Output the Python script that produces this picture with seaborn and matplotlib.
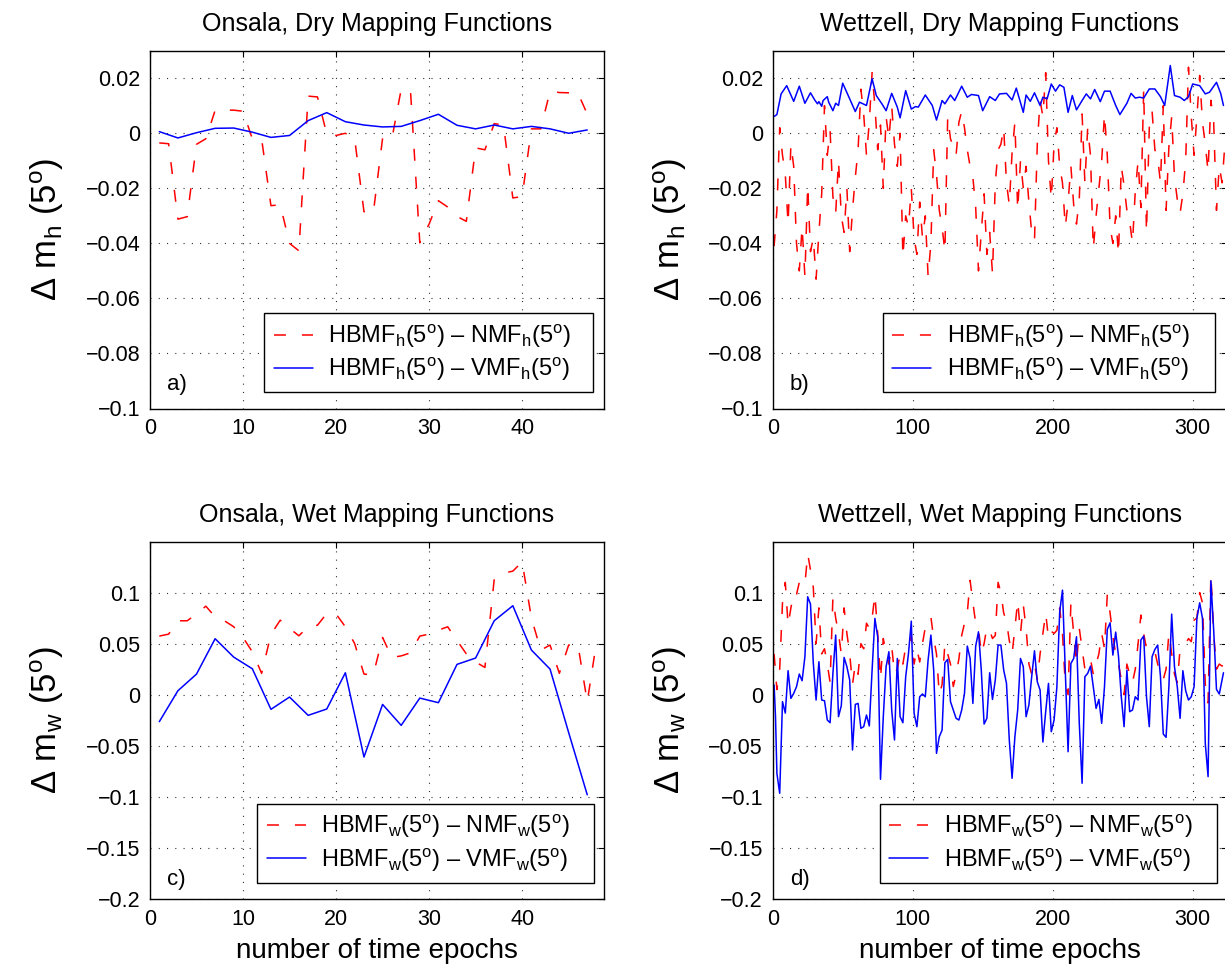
import matplotlib
matplotlib.use("Agg")
import matplotlib.pyplot as plt
import seaborn as sns

# ---------------- data ----------------
# Onsala, dry: red = HBMF-NMF (every epoch), blue = HBMF-VMF (every 2nd epoch)
ons_nmf_h_epoch = list(range(1, 49))
ons_nmf_h = [-0.0035, -0.0038, -0.0312, -0.0303, -0.0040, -0.0020, 0.0083, 0.0084,
             0.0084, 0.0080, -0.0020, -0.0021, -0.0263, -0.0260, -0.0400, -0.0427,
             0.0135, 0.0132, -0.0003, -0.0008, 0.0000, -0.0020, -0.0285, -0.0290,
             -0.0018, -0.0020, 0.0160, 0.0155, -0.0398, -0.0330, -0.0245, -0.0268,
             -0.0302, -0.0320, -0.0053, -0.0060, 0.0035, 0.0030, -0.0235, -0.0230,
             0.0016, 0.0016, 0.0153, 0.0148, 0.0147, 0.0146, 0.0070, 0.0075]
ons_vmf_h_epoch = list(range(1, 48, 2))
ons_vmf_h = [0.0006, -0.0017, 0.0002, 0.0018, 0.0019, 0.0004, -0.0015, -0.0008,
             0.0046, 0.0075, 0.0042, 0.0030, 0.0023, 0.0025, 0.0046, 0.0069,
             0.0029, 0.0016, 0.0030, 0.0016, 0.0025, 0.0016, 0.0000, 0.0012]

# Onsala, wet
ons_nmf_w_epoch = list(range(1, 49))
ons_nmf_w = [0.0574, 0.0593, 0.0724, 0.0724, 0.0790, 0.0867, 0.0763, 0.0724,
             0.0665, 0.0560, 0.0420, 0.0209, 0.0590, 0.0730, 0.0650, 0.0577,
             0.0665, 0.0680, 0.0796, 0.0790, 0.0665, 0.0500, 0.0202, 0.0195,
             0.0560, 0.0365, 0.0380, 0.0410, 0.0574, 0.0593, 0.0632, 0.0665,
             0.0530, 0.0400, 0.0320, 0.0267, 0.1130, 0.1190, 0.1210, 0.1300,
             0.0750, 0.0437, 0.0486, 0.0209, 0.0486, 0.0486, -0.0068, 0.0518]
ons_vmf_w_epoch = list(range(1, 48, 2))
ons_vmf_w = [-0.0264, 0.0039, 0.0202, 0.0548, 0.0368, 0.0254, -0.0143, -0.0023,
             -0.0202, -0.0140, 0.0215, -0.0610, -0.0095, -0.0300, -0.0033, -0.0078,
             0.0297, 0.0359, 0.0724, 0.0871, 0.0437, 0.0251, -0.0370, -0.0980]

# Wettzell, dry
wtz_nmf_h_epoch = list(range(1, 324, 2))
wtz_nmf_h = [-0.041, -0.028, 0.002, -0.008, -0.015, -0.033, -0.004, -0.012, -0.040, -0.050,
             -0.034, -0.052, -0.019, -0.043, -0.038, -0.053, -0.036, -0.022, 0.010, -0.008,
             0.001, -0.023, -0.029, -0.010, -0.030, -0.036, -0.020, -0.043, -0.028, -0.016,
             -0.006, 0.016, 0.007, -0.008, 0.004, 0.022, 0.010, -0.006, 0.003, -0.020,
             0.006, -0.002, 0.010, -0.004, -0.012, 0.000, -0.045, -0.030, -0.034, -0.020,
             -0.038, -0.044, -0.025, -0.038, -0.030, -0.052, -0.040, -0.006, -0.015, -0.028,
             -0.034, -0.043, 0.006, -0.002, -0.005, -0.008, 0.004, 0.008, 0.002, -0.006,
             -0.012, -0.016, -0.027, -0.050, -0.036, -0.022, -0.044, -0.036, -0.051, -0.018,
             -0.006, -0.004, 0.002, -0.018, -0.026, -0.007, 0.004, -0.028, -0.010, -0.020,
             -0.012, -0.025, -0.036, -0.039, -0.004, 0.012, 0.006, 0.022, -0.010, -0.024,
             -0.004, 0.002, -0.012, -0.018, -0.034, -0.025, -0.012, -0.026, -0.033, -0.024,
             0.007, -0.018, 0.002, -0.008, -0.042, -0.030, -0.020, -0.010, 0.007, -0.008,
             -0.034, -0.040, -0.030, -0.044, -0.012, -0.019, -0.028, -0.032, -0.040, -0.021,
             -0.010, -0.027, 0.016, -0.036, 0.002, 0.008, -0.006, -0.009, -0.018, 0.010,
             -0.028, -0.005, 0.006, -0.016, -0.024, -0.029, -0.022, -0.010, 0.024, 0.006,
             -0.008, 0.006, 0.021, 0.004, -0.004, -0.014, 0.012, 0.004, -0.028, -0.012,
             -0.018, -0.004]
wtz_vmf_h_epoch = [1, 3, 6, 10, 15, 19, 23, 27, 30, 32, 33, 35, 36, 39, 40, 43, 45, 47, 50, 55,
                   59, 62, 67, 71, 74, 78, 81, 85, 89, 91, 95, 99, 102, 104, 109, 114, 117, 121,
                   123, 127, 130, 135, 139, 142, 147, 150, 155, 159, 162, 167, 171, 174, 179,
                   181, 184, 187, 191, 193, 196, 199, 202, 205, 208, 211, 214, 217, 221, 224,
                   227, 230, 234, 237, 241, 245, 248, 253, 256, 259, 262, 265, 269, 273, 277,
                   280, 284, 287, 291, 294, 297, 300, 305, 309, 312, 317, 320, 322]
wtz_vmf_h = [0.0061, 0.0068, 0.0143, 0.0173, 0.0116, 0.0171, 0.0109, 0.0147, 0.0121, 0.0107,
             0.0115, 0.0098, 0.0119, 0.0133, 0.0113, 0.0082, 0.0109, 0.0101, 0.0182, 0.0125,
             0.0079, 0.0113, 0.0101, 0.0198, 0.0137, 0.0107, 0.0082, 0.0145, 0.0095, 0.0056,
             0.0155, 0.0088, 0.0097, 0.0095, 0.0139, 0.0101, 0.0048, 0.0119, 0.0107, 0.0139,
             0.0119, 0.0171, 0.0131, 0.0141, 0.0137, 0.0082, 0.0133, 0.0119, 0.0143, 0.0145,
             0.0121, 0.0164, 0.0076, 0.0139, 0.0116, 0.0147, 0.0101, 0.0131, 0.0125, 0.0179,
             0.0153, 0.0176, 0.0167, 0.0076, 0.0137, 0.0085, 0.0119, 0.0143, 0.0125, 0.0159,
             0.0115, 0.0153, 0.0153, 0.0101, 0.0068, 0.0109, 0.0145, 0.0128, 0.0131, 0.0128,
             0.0161, 0.0161, 0.0133, 0.0101, 0.0246, 0.0137, 0.0131, 0.0119, 0.0133, 0.0179,
             0.0173, 0.0143, 0.0149, 0.0185, 0.0145, 0.0101]

# Wettzell, wet
wtz_nmf_w_epoch = list(range(1, 324, 2))
wtz_nmf_w = [0.040, 0.005, 0.025, 0.090, 0.110, 0.068, 0.085, 0.100, 0.098, 0.110,
             0.112, 0.108, 0.138, 0.122, 0.105, 0.050, 0.085, 0.040, 0.045, 0.030,
             0.012, 0.095, 0.075, 0.060, 0.040, 0.085, 0.060, 0.040, 0.010, 0.030,
             0.020, 0.050, 0.045, 0.070, 0.065, 0.075, 0.098, 0.060, 0.015, 0.055,
             0.040, 0.030, 0.048, 0.020, 0.025, 0.040, 0.030, 0.047, 0.046, 0.058,
             0.030, 0.045, 0.032, 0.050, 0.066, 0.068, 0.076, 0.055, 0.040, 0.000,
             0.010, 0.050, 0.040, 0.030, 0.008, 0.020, 0.035, 0.058, 0.070, 0.080,
             0.112, 0.090, 0.070, 0.065, 0.040, 0.050, 0.066, 0.063, 0.055, 0.058,
             0.110, 0.100, 0.080, 0.072, 0.053, 0.040, 0.065, 0.092, 0.060, 0.088,
             0.065, 0.030, 0.020, 0.030, 0.015, 0.040, 0.060, 0.080, 0.055, 0.062,
             0.060, 0.063, 0.085, 0.060, 0.010, 0.000, 0.090, 0.060, 0.030, 0.065,
             0.045, 0.025, 0.030, 0.035, 0.020, 0.030, 0.040, 0.060, 0.045, 0.098,
             0.080, 0.057, 0.040, 0.030, 0.015, 0.000, 0.030, 0.020, 0.012, 0.025,
             0.050, 0.078, 0.060, 0.045, 0.042, 0.040, 0.042, 0.030, 0.020, 0.015,
             0.025, 0.060, 0.040, 0.020, 0.012, 0.045, 0.048, 0.050, 0.055, 0.052,
             0.073, 0.075, 0.100, 0.090, 0.010, -0.008, 0.118, 0.060, 0.025, 0.030,
             0.028, 0.032]
wtz_vmf_w_epoch = [1, 2, 3, 5, 7, 9, 11, 13, 15, 17, 19, 21, 23, 25, 27, 29, 31, 33, 35, 37,
                   39, 41, 43, 45, 47, 49, 51, 53, 55, 57, 59, 61, 63, 65, 67, 69, 71, 73, 75,
                   77, 79, 81, 83, 85, 87, 89, 91, 93, 95, 97, 99, 101, 103, 105, 107, 109,
                   111, 113, 115, 117, 119, 121, 123, 125, 127, 129, 131, 133, 135, 137, 139,
                   141, 143, 145, 147, 149, 151, 153, 155, 157, 159, 161, 163, 165, 167, 169,
                   171, 173, 175, 177, 179, 181, 183, 185, 187, 189, 191, 193, 195, 197, 199,
                   201, 203, 205, 207, 209, 211, 213, 215, 217, 219, 221, 223, 225, 227, 229,
                   231, 233, 235, 237, 239, 241, 243, 245, 247, 249, 251, 253, 255, 257, 259,
                   261, 263, 265, 267, 269, 271, 273, 275, 277, 279, 281, 283, 285, 287, 289,
                   291, 293, 295, 297, 299, 301, 303, 305, 307, 309, 311, 313, 315, 317, 319,
                   322]
wtz_vmf_w = [0.0095, -0.0215, -0.0770, -0.0965, -0.0068, -0.0180, 0.0235, -0.0036, 0.0013,
             0.0078, 0.0202, 0.0137, 0.0372, 0.0959, 0.0887, 0.0310, -0.0052, 0.0323, -0.0052,
             -0.0059, -0.0248, -0.0274, 0.0209, 0.0584, -0.0215, -0.0108, 0.0365, 0.0274,
             0.0143, -0.0541, -0.0095, -0.0085, -0.0329, -0.0313, -0.0199, -0.0306, 0.0241,
             0.0747, 0.0567, -0.0828, -0.0215, 0.0274, 0.0421, -0.0150, -0.0443, 0.0355,
             -0.0215, -0.0274, 0.0176, 0.0404, 0.0720, -0.0183, -0.0313, -0.0020, 0.0007,
             -0.0020, 0.0339, 0.0584, 0.0241, -0.0574, -0.0411, -0.0346, 0.0313, 0.0346,
             -0.0068, -0.0150, -0.0231, -0.0248, -0.0150, 0.0013, 0.0476, 0.0355, -0.0085,
             0.0476, 0.0616, 0.0241, -0.0287, -0.0231, 0.0215, -0.0046, 0.0143, 0.0486,
             0.0486, 0.0241, 0.0111, -0.0443, -0.0818, -0.0411, -0.0150, 0.0355, 0.0274,
             -0.0215, -0.0101, 0.0176, 0.0430, 0.0127, 0.0046, -0.0463, -0.0166, 0.0111,
             -0.0362, -0.0248, 0.0078, 0.0812, 0.1024, 0.0241, -0.0558, 0.0306, 0.0355,
             0.0567, -0.0280, -0.0867, 0.0176, 0.0209, 0.0280, 0.0078, -0.0134, -0.0046,
             -0.0280, 0.0078, 0.0639, 0.0704, 0.0388, 0.0613, 0.0378, -0.0020, -0.0313,
             0.0241, -0.0166, -0.0150, -0.0020, -0.0052, 0.0535, 0.0574, -0.0020, -0.0313,
             0.0372, 0.0443, 0.0486, 0.0176, -0.0385, -0.0417, 0.0078, 0.0789, 0.0274,
             0.0078, -0.0231, 0.0235, 0.0039, -0.0052, -0.0020, 0.0078, 0.0747, 0.0900,
             0.0747, -0.0476, -0.0802, 0.1115, 0.0633, 0.0052, 0.0007, 0.0215]

titles = ["Onsala, Dry Mapping Functions", "Wettzell, Dry Mapping Functions",
          "Onsala, Wet Mapping Functions", "Wettzell, Wet Mapping Functions"]
panel_letters = ["a)", "b)", "c)", "d)"]
ylabels = ["Δ m$_{\\mathrm{h}}$ (5$^{\\mathrm{o}}$)", "Δ m$_{\\mathrm{w}}$ (5$^{\\mathrm{o}}$)"]
legend_dry = ["HBMF$_{\\mathrm{h}}$(5$^{\\mathrm{o}}$) – NMF$_{\\mathrm{h}}$(5$^{\\mathrm{o}}$)",
              "HBMF$_{\\mathrm{h}}$(5$^{\\mathrm{o}}$) – VMF$_{\\mathrm{h}}$(5$^{\\mathrm{o}}$)"]
legend_wet = ["HBMF$_{\\mathrm{w}}$(5$^{\\mathrm{o}}$) – NMF$_{\\mathrm{w}}$(5$^{\\mathrm{o}}$)",
              "HBMF$_{\\mathrm{w}}$(5$^{\\mathrm{o}}$) – VMF$_{\\mathrm{w}}$(5$^{\\mathrm{o}}$)"]
xlabel_text = "number of time epochs"
ons_xticks = [0, 10, 20, 30, 40]
wtz_xticks = [0, 100, 200, 300]
dry_yticks = [-0.1, -0.08, -0.06, -0.04, -0.02, 0, 0.02]
dry_yticklabels = ["−0.1", "−0.08", "−0.06", "−0.04", "−0.02", "0", "0.02"]
wet_yticks = [-0.2, -0.15, -0.1, -0.05, 0, 0.05, 0.1]
wet_yticklabels = ["−0.2", "−0.15", "−0.1", "−0.05", "0", "0.05", "0.1"]

# ---------------- style ----------------
sns.set_theme(style="white")
plt.rcParams["font.family"] = ["Liberation Sans", "DejaVu Sans"]
plt.rcParams["mathtext.fontset"] = "custom"
plt.rcParams["mathtext.rm"] = "Liberation Sans"
plt.rcParams["mathtext.it"] = "Liberation Sans:italic"
plt.rcParams["mathtext.bf"] = "Liberation Sans:bold"
plt.rcParams["lines.scale_dashes"] = False
plt.rcParams["axes.edgecolor"] = "black"
plt.rcParams["axes.labelcolor"] = "black"
plt.rcParams["text.color"] = "black"
plt.rcParams["xtick.color"] = "black"
plt.rcParams["ytick.color"] = "black"

RED = "#ff0000"
BLUE = "#0000ff"
RED_DASH = (0, (8.6, 11.5))

W, H = 1225.0, 968.0
fig = plt.figure(figsize=(12.25, 9.68), dpi=100)
fig.patch.set_facecolor("white")


def add_axes_px(left, top, width, height):
    return fig.add_axes([left / W, 1 - (top + height) / H, width / W, height / H])


def panel(ax, xr, yr, xb, yb, xlim, xticks, ylim, yticks, yticklabels, title,
          ylabel, labels, letter, leg_box, letter_y, xlabel=None):
    sns.lineplot(x=xr, y=yr, ax=ax, color=RED, linewidth=1.1, linestyle=RED_DASH,
                 errorbar=None, sort=False, label=labels[0], legend=False)
    sns.lineplot(x=xb, y=yb, ax=ax, color=BLUE, linewidth=1.1,
                 errorbar=None, sort=False, label=labels[1], legend=False)
    ax.set_xlim(*xlim)
    ax.set_ylim(*ylim)
    ax.set_xticks(xticks)
    ax.set_xticklabels([str(t) for t in xticks])
    ax.set_yticks(yticks)
    ax.set_yticklabels(yticklabels)
    ax.tick_params(direction="in", length=4, width=0.8, top=True, right=True,
                   labelsize=15.5, pad=7, colors="black")
    ax.tick_params(axis="x", pad=7)
    ax.grid(True, color="0.15", linestyle=(0, (0.75, 5.2)), linewidth=0.8)
    ax.set_axisbelow(True)
    for sp in ax.spines.values():
        sp.set_linewidth(1.0)
        sp.set_color("black")
    ax.set_title(title, fontsize=18, pad=14, color="black")
    ax.set_ylabel(ylabel, fontsize=25, color="black")
    ax.yaxis.set_label_coords(-0.184, 0.5)
    if xlabel:
        ax.set_xlabel(xlabel, fontsize=20, labelpad=6, color="black")
    else:
        ax.set_xlabel("")
    handles, labs = ax.get_legend_handles_labels()
    x0, y0, x1, y1 = leg_box
    leg = ax.legend(handles, labs, loc="center", bbox_to_anchor=(x0, y0, x1 - x0, y1 - y0),
                    mode="expand", fontsize=17, frameon=True, fancybox=False,
                    edgecolor="black", framealpha=1, handlelength=1.65,
                    handletextpad=0.65, borderpad=0.4, labelspacing=0.25,
                    borderaxespad=0)
    leg.get_frame().set_linewidth(1.0)
    ax.text(17 / 454, letter_y, letter, transform=ax.transAxes, fontsize=16,
            ha="left", va="baseline", color="black")


ax_tl = add_axes_px(150, 50.7, 454, 357.8)
ax_tr = add_axes_px(772.7, 50.7, 454, 357.8)
ax_bl = add_axes_px(150, 541.5, 454, 357.5)
ax_br = add_axes_px(772.7, 541.5, 454, 357.5)

panel(ax_tl, ons_nmf_h_epoch, ons_nmf_h, ons_vmf_h_epoch, ons_vmf_h, (0, 48.8), ons_xticks,
      (-0.1, 0.03), dry_yticks, dry_yticklabels, titles[0], ylabels[0], legend_dry,
      panel_letters[0], (0.252, 0.036, 0.975, 0.275), 0.052)
panel(ax_tr, wtz_nmf_h_epoch, wtz_nmf_h, wtz_vmf_h_epoch, wtz_vmf_h, (0, 324.3), wtz_xticks,
      (-0.1, 0.03), dry_yticks, dry_yticklabels, titles[1], ylabels[0], legend_dry,
      panel_letters[1], (0.243, 0.036, 0.974, 0.275), 0.052)
panel(ax_bl, ons_nmf_w_epoch, ons_nmf_w, ons_vmf_w_epoch, ons_vmf_w, (0, 48.8), ons_xticks,
      (-0.2, 0.15), wet_yticks, wet_yticklabels, titles[2], ylabels[1], legend_wet,
      panel_letters[2], (0.236, 0.034, 0.978, 0.277), 0.04, xlabel_text)
panel(ax_br, wtz_nmf_w_epoch, wtz_nmf_w, wtz_vmf_w_epoch, wtz_vmf_w, (0, 324.3), wtz_xticks,
      (-0.2, 0.15), wet_yticks, wet_yticklabels, titles[3], ylabels[1], legend_wet,
      panel_letters[3], (0.236, 0.034, 0.978, 0.277), 0.04, xlabel_text)

fig.savefig("out.png", dpi=100, facecolor="white")
